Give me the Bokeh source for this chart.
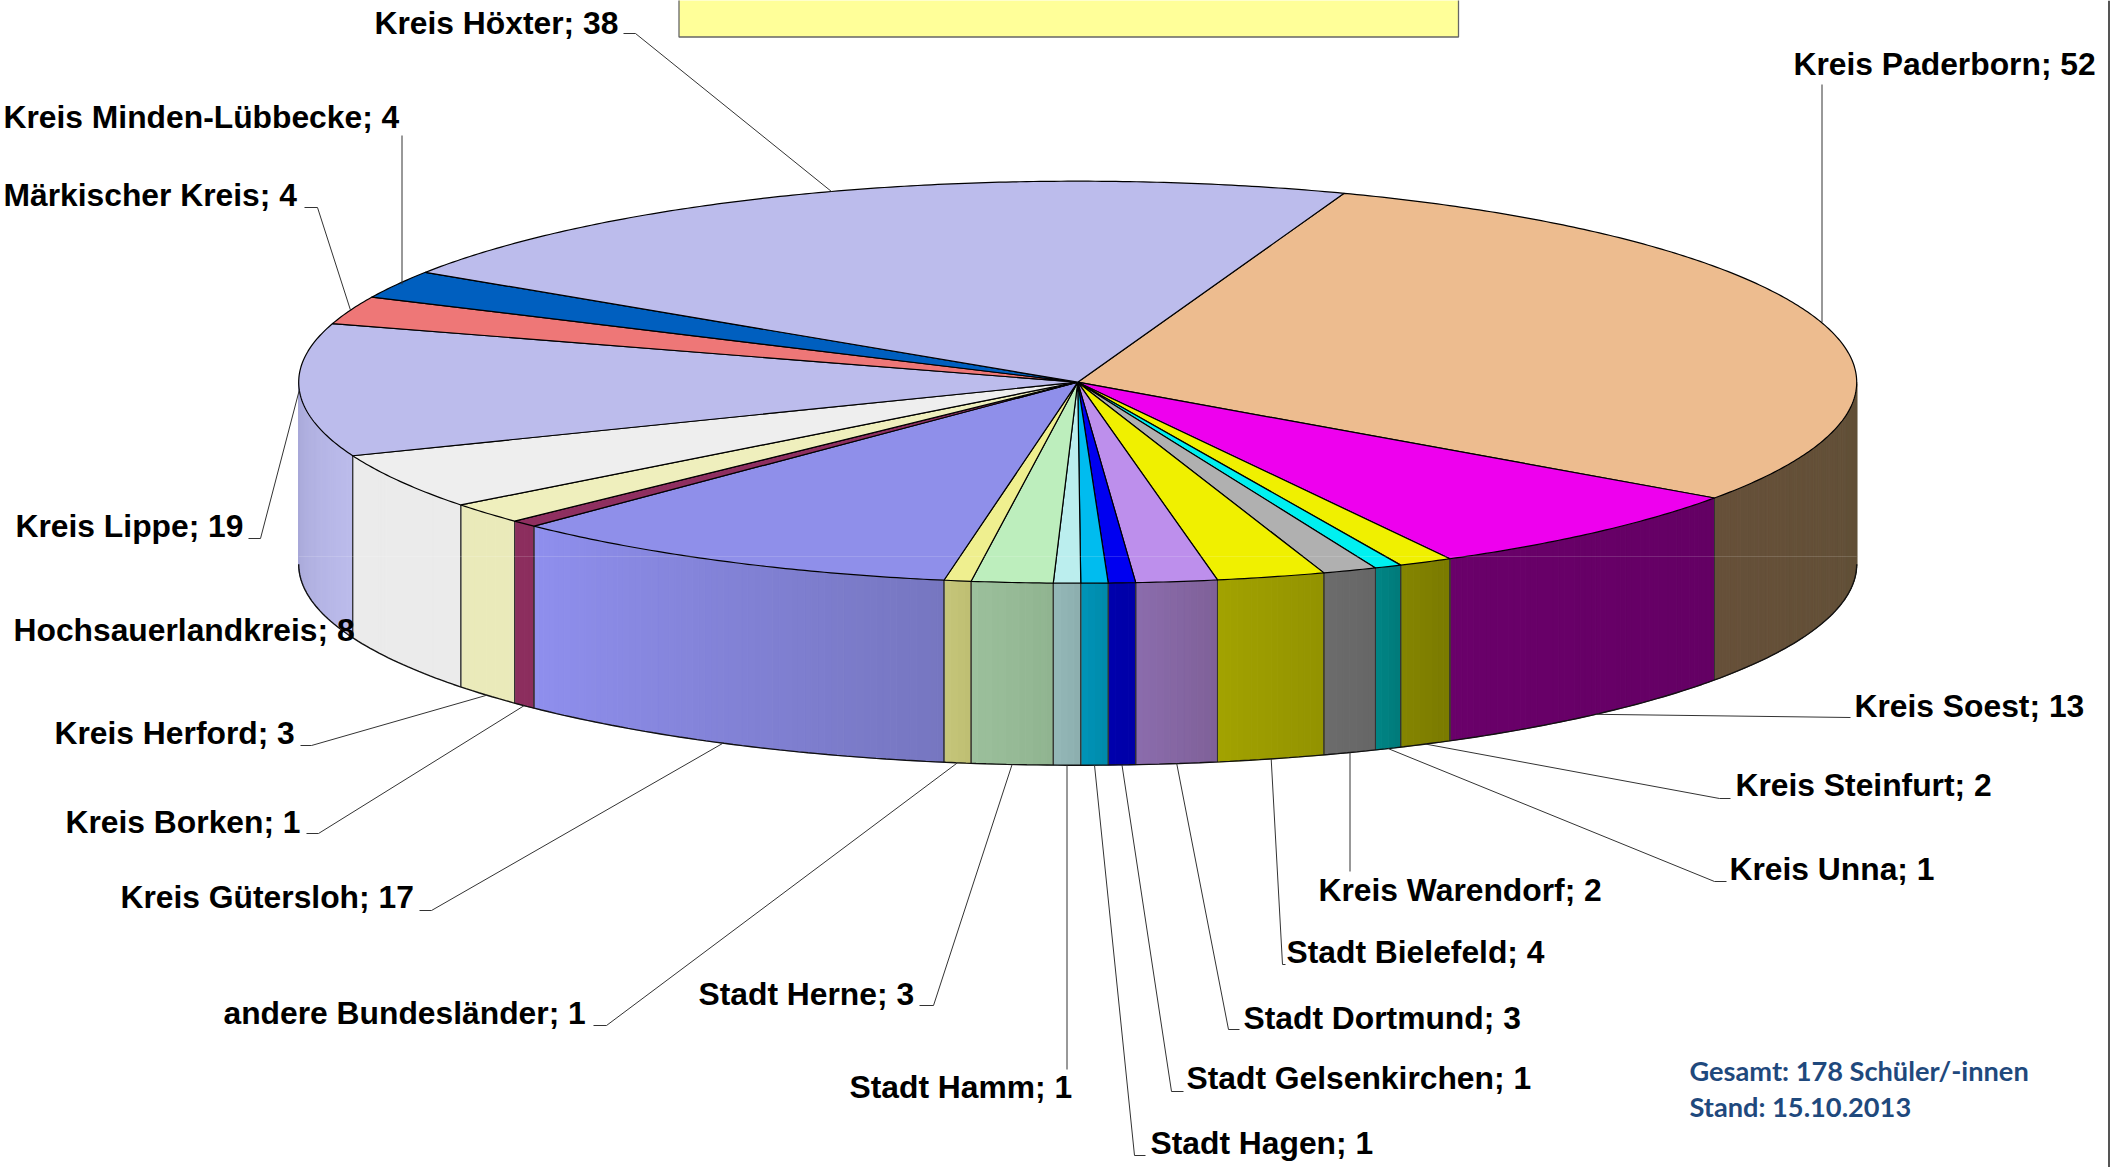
import math
from bokeh.plotting import figure
from bokeh.models import ColumnDataSource
from bokeh.core.properties import value
from bokeh.embed import file_html
from bokeh.resources import INLINE

# ---- data (clockwise, beginning at Kreis Paderborn) ----
names = ["Kreis Paderborn", "Kreis Soest", "Kreis Steinfurt", "Kreis Unna", "Kreis Warendorf",
         "Stadt Bielefeld", "Stadt Dortmund", "Stadt Gelsenkirchen", "Stadt Hagen", "Stadt Hamm",
         "Stadt Herne", "andere Bundesländer", "Kreis Gütersloh", "Kreis Borken", "Kreis Herford",
         "Hochsauerlandkreis", "Kreis Lippe", "Märkischer Kreis", "Kreis Minden-Lübbecke", "Kreis Höxter"]
counts = [52, 13, 2, 1, 2, 4, 3, 1, 1, 1, 3, 1, 17, 1, 3, 8, 19, 4, 4, 38]

top_colors = ["#EDBC8F", "#EE00EE", "#F0F000", "#00F0F0", "#B0B0B0", "#F0F000", "#BD8FEC", "#0000F0",
              "#00BCEF", "#BBEEEE", "#BDEEBD", "#EFEF8F", "#8F8FEA", "#8F2F60", "#EFEFBD", "#EEEEEE",
              "#BCBCEC", "#EE7777", "#005FBF", "#BCBCEC"]
side_left = ["#665039", "#6A006A", "#858500", "#008585", "#6C6C6C", "#A3A300", "#8B6CAD", "#0000AD",
             "#0094B8", "#94B8B8", "#9CC09C", "#C6C67A", "#8F8FEE", "#8C2E5E", "#EAEABA", "#EBEBEB",
             "#A8A8D8", "#000000", "#000000", "#000000"]
side_right = ["#615037", "#640064", "#7A7A00", "#007A7A", "#666666", "#929200", "#7F6198", "#0000A6",
              "#008AAA", "#8CAEAE", "#90B490", "#BEBE72", "#7676C0", "#8C2E5E", "#EAEABA", "#EBEBEB",
              "#BCBCEC", "#000000", "#000000", "#000000"]

# ---- layout ----
CX, CY, RX, RY, DEPTH = 1077.2, 381.7, 779.0, 201.0, 182.0
START = 20.0
total = sum(counts)

label_left = [1793, 1854, 1735, 1729, 1318, 1286, 1243, 1186, 1150, 849, 698, 223, 120, 65, 54, 13, 15, 3, 3, 374]
label_mid = [63.5, 705.5, 784.5, 868.5, 889.5, 951.5, 1017.5, 1077.5, 1142.5, 1086.5, 993.5, 1012.5, 896.5,
             821.5, 732.5, 629.5, 525.5, 194.5, 116.5, 22.5]
leader_outer = [(1821.5, 84), (1850, 717), (1730, 798), (1726, 881), (1349.5, 871), (1285, 964), (1239, 1029),
                (1183, 1091), (1145, 1155), (1066.5, 1069), (919, 1005), (593, 1025), (419, 910), (306, 833),
                (300, 745), None, (248, 538), (304, 207), (401.5, 135), (623, 33)]
leader_knee = [None, None, (1719, 798), (1714, 881), None, (1282, 964), (1228, 1029),
               (1171, 1091), (1134, 1155), None, (933, 1005), (606, 1025), (431, 910), (318, 833),
               (311, 745), None, (260, 538), (317, 207), None, (635, 33)]


def rim(angle):
    r = math.radians(angle)
    return CX + RX * math.sin(r), CY - RY * math.cos(r)


def mix(c1, c2, t):
    a = [int(c1[i:i + 2], 16) for i in (1, 3, 5)]
    b = [int(c2[i:i + 2], 16) for i in (1, 3, 5)]
    return "#%02x%02x%02x" % tuple(round(u + (v - u) * t) for u, v in zip(a, b))


bounds = [START]
for c in counts:
    bounds.append(bounds[-1] + c / total * 360)

p = figure(width=2111, height=1167, x_range=(0, 2111), y_range=(1167, 0),
           output_backend="svg", toolbar_location=None, min_border=0,
           outline_line_color=None)
p.axis.visible = False
p.grid.visible = False
p.background_fill_color = "white"

# frame bits
p.quad(left=[678.5], right=[1458], top=[-2], bottom=[36.5], fill_color="#FFFF99", line_color="#666666", line_width=1.3)
p.segment([2108.5], [0], [2108.5], [1167], line_color="#555555", line_width=2)

# side wall strips
sx, sy, sc = [], [], []
edge_x, edge_y = [], []
for i in range(len(counts)):
    a0, a1 = max(bounds[i], 90), min(bounds[i + 1], 270)
    if a0 >= a1:
        continue
    n = max(2, int((a1 - a0) / 0.5))
    for k in range(n):
        b0 = a0 + (a1 - a0) * k / n
        b1 = a0 + (a1 - a0) * (k + 1) / n
        m = 6
        angs = [b0 + (b1 - b0) * j / m for j in range(m + 1)]
        pts = [rim(a) for a in angs]
        sx.append([q[0] for q in pts] + [q[0] for q in reversed(pts)])
        sy.append([q[1] for q in pts] + [q[1] + DEPTH for q in reversed(pts)])
        sc.append(mix(side_left[i], side_right[i], 1 - (k + 0.5) / n))
    for a in (a0, a1):
        if 90 < a < 270:
            x, y = rim(a)
            edge_x.append([x, x])
            edge_y.append([y, y + DEPTH])
p.patches(xs="x", ys="y", source=ColumnDataSource(dict(x=sx, y=sy, c=sc)),
          fill_color="c", line_color="c", line_width=1)
p.multi_line(edge_x, edge_y, line_color="#333333", line_width=1)

# bottom rim
arc = [rim(90 + 180 * j / 240) for j in range(241)]
p.line([q[0] for q in arc], [q[1] + DEPTH for q in arc], line_color="#111111", line_width=1.4)

# top wedges
tx, ty = [], []
for i in range(len(counts)):
    m = max(2, int(bounds[i + 1] - bounds[i]) * 2)
    pts = [rim(bounds[i] + (bounds[i + 1] - bounds[i]) * j / m) for j in range(m + 1)]
    tx.append([CX] + [q[0] for q in pts])
    ty.append([CY] + [q[1] for q in pts])
p.patches(xs="x", ys="y", source=ColumnDataSource(dict(x=tx, y=ty, c=top_colors)),
          fill_color="c", line_color="#000000", line_width=1.2, line_join="round")

# faint band across the pie
p.segment([CX - RX], [556], [CX + RX], [556], line_color="white", line_alpha=0.15, line_width=1)

# leader lines
lx, ly = [], []
for i in range(len(counts)):
    if leader_outer[i] is None:
        continue
    mid = (bounds[i] + bounds[i + 1]) / 2
    x, y = rim(mid)
    if 90 < mid % 360 < 265:
        y += DEPTH
    xs, ys = [leader_outer[i][0]], [leader_outer[i][1]]
    if leader_knee[i] is not None:
        xs.append(leader_knee[i][0])
        ys.append(leader_knee[i][1])
    elif abs(x - xs[0]) < 8:
        x = xs[0]
    lx.append(xs + [x])
    ly.append(ys + [y])
p.multi_line(lx, ly, line_color="#333333", line_width=1)

# labels
texts = [f"{n}; {c}" for n, c in zip(names, counts)]
p.text(x=label_left, y=label_mid, text=texts, text_font=value("Liberation Sans"), text_font_style="bold",
       text_font_size="31.8px", text_color="black", text_align="left", text_baseline="middle")

note_lines = ["Gesamt: 178 Schüler/-innen", "Stand: 15.10.2013"]
p.text(x=[1689, 1689], y=[1070, 1106], text=note_lines, text_font=value("Lato"), text_font_style="bold",
       text_font_size="27.2px", text_color="#1F497D", text_align="left", text_baseline="middle")

open("out.html", "w").write(file_html(p, INLINE))
